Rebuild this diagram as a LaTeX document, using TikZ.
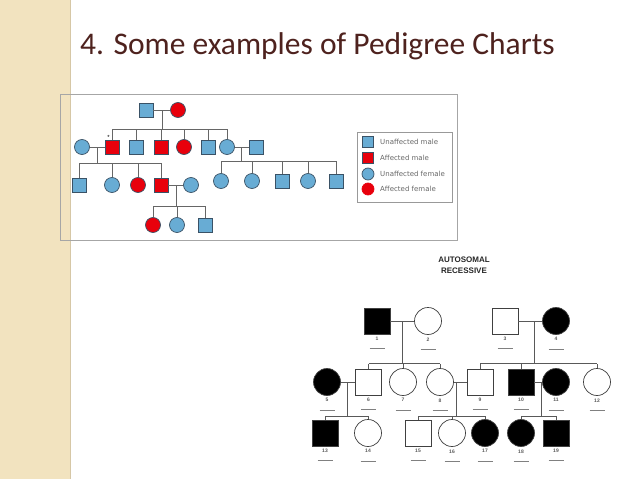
\documentclass[tikz,border=0pt]{standalone}
\usepackage{fontspec}
\setmainfont{Liberation Sans}
\newfontfamily\titlefont{Carlito}
\newfontfamily\legendfont{DejaVu Sans}
\usetikzlibrary{calc,positioning}
\definecolor{pedblue}{RGB}{104,172,212}
\definecolor{pedred}{RGB}{232,0,12}
\definecolor{rimcolor}{RGB}{58,82,102}
\definecolor{titlecolor}{RGB}{78,34,30}
\definecolor{stripbeige}{RGB}{242,227,191}
\definecolor{stripedge}{RGB}{214,199,166}
\tikzset{
	umale/.style={
		rectangle,
		draw=rimcolor,
		fill=pedblue,
		line width=0.7pt,
		minimum size=14pt,
		inner sep=0pt
	},
	amale/.style={
		umale,
		fill=pedred
	},
	ufemale/.style={
		circle,
		draw=rimcolor,
		fill=pedblue,
		line width=0.7pt,
		minimum size=15pt,
		inner sep=0pt
	},
	afemale/.style={
		ufemale,
		fill=pedred
	},
	kin/.style={
		draw=black!60,
		line width=0.8pt
	},
	keytext/.style={
		font=\legendfont\fontsize{7}{8}\selectfont,
		text=black!60,
		inner sep=1pt,
		anchor=west
	},
	rmale/.style={
		rectangle,
		draw=black!75,
		fill=white,
		line width=0.7pt,
		minimum size=26pt,
		inner sep=0pt
	},
	rmaleA/.style={
		rmale,
		fill=black
	},
	rfemale/.style={
		circle,
		draw=black!75,
		fill=white,
		line width=0.7pt,
		minimum size=27pt,
		inner sep=0pt
	},
	rfemaleA/.style={
		rfemale,
		fill=black
	},
	rkin/.style={
		draw=black!65,
		line width=0.7pt
	},
	numlab/.style={
		font=\bfseries\fontsize{5}{5.5}\selectfont,
		text=black!65,
		align=center,
		inner sep=1pt,
		label distance=1.5pt
	},
}
\newcommand{\idx}[1]{#1\\[3pt]\textcolor{black!50}{\rule{15pt}{0.7pt}}}

\begin{document}
\begin{tikzpicture}[x=1pt,y=-1pt]
	\useasboundingbox (0,0) rectangle (638,479);
	% slide strip and title
	\fill[stripbeige] (0,0) rectangle (70,479);
	\draw[stripedge,line width=1.2pt] (70.5,0) -- (70.5,479);
	\node[anchor=base west,inner sep=0pt,text=titlecolor,font=\titlefont\fontsize{31.5}{36}\selectfont] (title) at (80,54) {4. Some examples of Pedigree Charts};
	
	% first chart
	\draw[black!35,line width=1pt] (60,94) rectangle (457,240);
	\node [umale] (i1) at (146,110) {};
	\node [afemale] (i2) at (178,110) {};
	
	\node [ufemale] (f1) at (82,147) {};
	\node [amale] (m1) at (112,147) {};
	\node [umale] (m2) at (136,147) {};
	\node [amale] (m3) at (161,147) {};
	\node [afemale] (f2) at (184,147) {};
	\node [umale] (m4) at (208,147) {};
	\node [ufemale] (f3) at (227,147) {};
	\node [umale] (m5) at (256,147) {};
	\node [inner sep=0pt,font=\fontsize{6}{6}\selectfont] (star) at (108.5,137.5) {*};
	
	\node [umale] (m6) at (79,185) {};
	\node [ufemale] (f4) at (112,185) {};
	\node [afemale] (f5) at (138,185) {};
	\node [amale] (m7) at (161,185) {};
	\node [ufemale] (f6) at (191,185) {};
	
	\node [ufemale] (f7) at (221,181) {};
	\node [ufemale] (f8) at (252,181) {};
	\node [umale] (m8) at (282,181) {};
	\node [ufemale] (f9) at (308,181) {};
	\node [umale] (m9) at (336,181) {};
	
	\node [afemale] (f10) at (153,225) {};
	\node [ufemale] (f11) at (177,225) {};
	\node [umale] (m10) at (205,225) {};
	
	\path[kin]
	(i1) edge (i2)
	(f1) edge (m1)
	(m7) edge (f6)
	(f3) edge (m5)
	;
	\coordinate (u1) at ($(i1)!0.5!(i2)$);
	\coordinate (u2) at ($(f1)!0.5!(m1)$);
	\coordinate (u3) at ($(m7)!0.5!(f6)$);
	\coordinate (u4) at ($(f3)!0.5!(m5)$);
	\coordinate (s1) at (0,129);
	\coordinate (s2) at (0,163);
	\coordinate (s3) at (0,161);
	\coordinate (s4) at (0,206);
	
	\draw[kin] (u1) -- (u1 |- s1);
	\draw[kin] (m1.north |- s1) -- (f3.north |- s1);
	\foreach \c in {m1,m2,m3,f2,m4,f3}
		\draw[kin] (\c.north) -- (\c.north |- s1);
	
	\draw[kin] (u2) -- (u2 |- s2);
	\draw[kin] (m6.north |- s2) -- (m7.north |- s2);
	\foreach \c in {m6,f4,f5,m7}
		\draw[kin] (\c.north) -- (\c.north |- s2);
	
	\draw[kin] (u4) -- (u4 |- s3);
	\draw[kin] (f7.north |- s3) -- (m9.north |- s3);
	\foreach \c in {f7,f8,m8,f9,m9}
		\draw[kin] (\c.north) -- (\c.north |- s3);
	
	\draw[kin] (u3) -- (u3 |- s4);
	\draw[kin] (f10.north |- s4) -- (m10.north |- s4);
	\foreach \c in {f10,f11,m10}
		\draw[kin] (\c.north) -- (\c.north |- s4);
	
	% key
	\draw[black!40,line width=0.8pt] (357,132) rectangle (452,202);
	\node [umale,minimum size=11pt] (k1) at (368,142) {};
	\node [amale,minimum size=11pt] (k2) at (368,158) {};
	\node [ufemale,minimum size=12pt] (k3) at (368,174) {};
	\node [afemale,minimum size=12pt,draw=pedred] (k4) at (368,189) {};
	\node [keytext] (k1t) at (379,142) {Unaffected male};
	\node [keytext] (k2t) at (379,158) {Affected male};
	\node [keytext] (k3t) at (379,174) {Unaffected female};
	\node [keytext] (k4t) at (379,189) {Affected female};
	
	% second chart
	\node [font=\bfseries\fontsize{8}{11}\selectfont,text=black!85,align=center,inner sep=0pt] (kind) at (464,265) {AUTOSOMAL\\RECESSIVE};
	
	\node [rmaleA] (r1) [label={[numlab]below:\idx{1}}] at (377,321) {};
	\node [rfemale] (r2) [label={[numlab]below:\idx{2}}] at (428,321) {};
	\node [rmale] (r3) [label={[numlab]below:\idx{3}}] at (505,321) {};
	\node [rfemaleA] (r4) [label={[numlab]below:\idx{4}}] at (556,321) {};
	
	\node [rfemaleA] (r5) [label={[numlab]below:\idx{5}}] at (327,382) {};
	\node [rmale] (r6) [label={[numlab]below:\idx{6}}] at (368.5,382) {};
	\node [rfemale] (r7) [label={[numlab]below:\idx{7}}] at (403,382) {};
	\node [rfemale] (r8) [label={[numlab]below:\idx{8}}] at (440,382) {};
	\node [rmale] (r9) [label={[numlab]below:\idx{9}}] at (480,382) {};
	\node [rmaleA] (r10) [label={[numlab]below:\idx{10}}] at (521,382) {};
	\node [rfemaleA] (r11) [label={[numlab]below:\idx{11}}] at (556,382) {};
	\node [rfemale] (r12) [label={[numlab]below:\idx{12}}] at (597,382) {};
	
	\node [rmaleA] (r13) [label={[numlab]below:\idx{13}}] at (325,433) {};
	\node [rfemale] (r14) [label={[numlab]below:\idx{14}}] at (368,433) {};
	\node [rmale] (r15) [label={[numlab]below:\idx{15}}] at (418,433) {};
	\node [rfemale] (r16) [label={[numlab]below:\idx{16}}] at (452,433) {};
	\node [rfemaleA] (r17) [label={[numlab]below:\idx{17}}] at (485,433) {};
	\node [rfemaleA] (r18) [label={[numlab]below:\idx{18}}] at (521,433) {};
	\node [rmaleA] (r19) [label={[numlab]below:\idx{19}}] at (556,433) {};
	
	\path[rkin]
	(r1) edge (r2)
	(r3) edge (r4)
	(r5) edge (r6)
	(r8) edge (r9)
	(r10) edge (r11)
	;
	\coordinate (v1) at ($(r1)!0.5!(r2)$);
	\coordinate (v2) at ($(r3)!0.57!(r4)$);
	\coordinate (v3) at ($(r5)!0.5!(r6)$);
	\coordinate (v4) at ($(r8)!0.42!(r9)$);
	\coordinate (v5) at ($(r10)!0.57!(r11)$);
	\coordinate (t1) at (0,363.5);
	\coordinate (t2) at (0,416);
	
	\draw[rkin] (v1) -- (v1 |- t1);
	\draw[rkin] (v2) -- (v2 |- t1);
	\draw[rkin] (r6.north |- t1) -- (r8.north |- t1);
	\draw[rkin] (r9.north |- t1) -- (r12.north |- t1);
	\foreach \c in {r6,r7,r8,r9,r10,r12}
		\draw[rkin] (\c.north) -- (\c.north |- t1);
	
	\draw[rkin] (v3) -- (v3 |- t2);
	\draw[rkin] (v4) -- (v4 |- t2);
	\draw[rkin] (v5) -- (v5 |- t2);
	\draw[rkin] (r13.north |- t2) -- (r14.north |- t2);
	\draw[rkin] (r15.north |- t2) -- (r17.north |- t2);
	\draw[rkin] (r18.north |- t2) -- (r19.north |- t2);
	\foreach \c in {r13,r14,r15,r16,r17,r18,r19}
		\draw[rkin] (\c.north) -- (\c.north |- t2);
\end{tikzpicture}
\end{document}
